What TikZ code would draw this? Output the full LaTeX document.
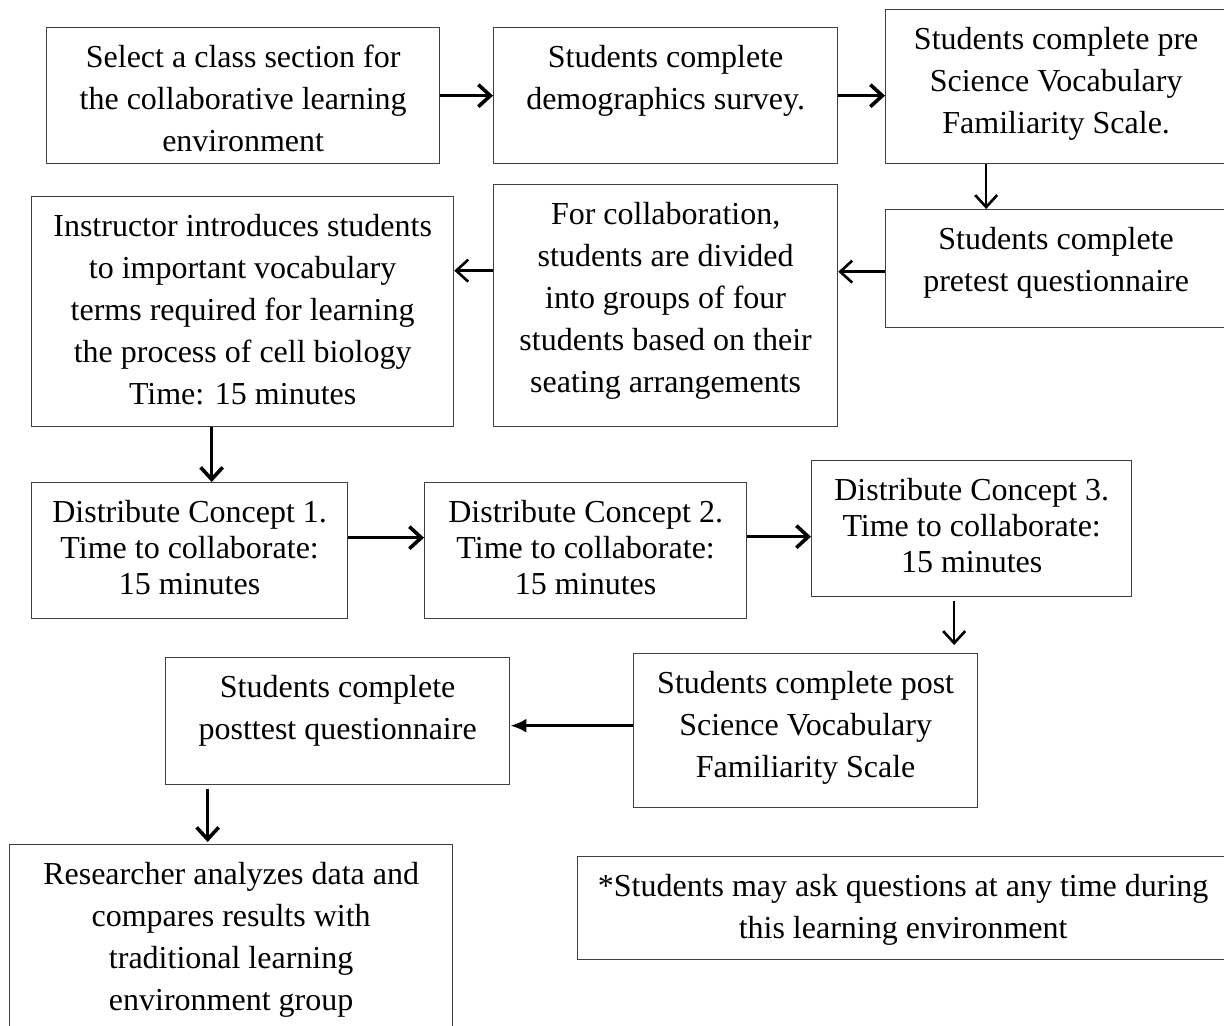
\documentclass[tikz,border=0pt]{standalone}
\usepackage{fontspec}
\setmainfont{Liberation Serif}
\usetikzlibrary{arrows.meta}

\tikzset{
  stage/.style={draw=black!75, line width=0.65pt, inner sep=0pt, anchor=north west},
  flow/.style={-{Straight Barb[length=6pt,width=11pt]}, line width=1.8pt},
  thinflow/.style={-{Straight Barb[length=6pt,width=11pt]}, line width=1.3pt},
  solidflow/.style={-{Latex[length=8pt,width=7pt]}, line width=1.6pt}
}
\newcommand{\stagetext}[4][21pt]{%
  \begin{minipage}[t][#3][t]{#2}\centering
  \fontsize{16}{#1}\selectfont\rule{0pt}{20pt}#4%
  \end{minipage}}

\begin{document}
\begin{tikzpicture}[x=0.5pt,y=-0.5pt]

        \clip (0,0) rectangle (1224,1025);

        % first row
        \node[stage] (select) at (46,27) {\stagetext{196.5pt}{68pt}{Select a class section for\\the collaborative learning\\environment}};
        \node[stage] (demog) at (493,27) {\stagetext{172pt}{68pt}{Students complete\\demographics survey.}};
        \node[stage] (prescale) at (885,9) {\stagetext{170.5pt}{77pt}{Students complete pre\\Science Vocabulary\\Familiarity Scale.}};

        % second row
        \node[stage] (pretest) at (885,209) {\stagetext{170.5pt}{59pt}{Students complete\\pretest questionnaire}};
        \node[stage] (groups) at (493,184) {\stagetext{172pt}{121pt}{For collaboration,\\students are divided\\into groups of four\\students based on their\\seating arrangements}};
        \node[stage] (vocab) at (31,196) {\stagetext{211pt}{115pt}{Instructor introduces students\\to important vocabulary\\terms required for learning\\the process of cell biology\\Time: 15 minutes}};

        % concepts
        \node[stage] (conceptA) at (31,482) {\stagetext[18pt]{158pt}{68pt}{Distribute Concept 1.\\Time to collaborate:\\15 minutes}};
        \node[stage] (conceptB) at (424,482) {\stagetext[18pt]{161pt}{68pt}{Distribute Concept 2.\\Time to collaborate:\\15 minutes}};
        \node[stage] (conceptC) at (811,460) {\stagetext[18pt]{160pt}{68pt}{Distribute Concept 3.\\Time to collaborate:\\15 minutes}};

        % post
        \node[stage] (postscale) at (633,653) {\stagetext{172pt}{77pt}{Students complete post\\Science Vocabulary\\Familiarity Scale}};
        \node[stage] (posttest) at (165,657) {\stagetext{172pt}{63.5pt}{Students complete\\posttest questionnaire}};
        \node[stage] (analyse) at (9,844) {\stagetext{221.5pt}{95.5pt}{Researcher analyzes data and\\compares results with\\traditional learning\\environment group}};
        \node[stage] (note) at (577,856) {\stagetext{325.5pt}{51.5pt}{*Students may ask questions at any time during\\this learning environment}};

        \draw[flow] (select.east) -- (demog.west);
        \draw[flow] (demog.east) -- (demog.east -| prescale.west);
        \draw[thinflow] ([xshift=-35pt]prescale.south) -- ([xshift=-35pt]pretest.north);
        \draw[thinflow] ([yshift=-1.5pt]pretest.west) -- ([yshift=-1.5pt]pretest.west -| groups.east);
        \draw[thinflow] ([yshift=-1pt]pretest.west -| groups.west) -- ([yshift=-1pt]pretest.west -| vocab.east);
        \draw[flow] ([xshift=-15.5pt]vocab.south) -- ([xshift=-15.5pt]vocab.south |- conceptA.north);
        \draw[flow] ([yshift=6.5pt]conceptA.east) -- ([yshift=6.5pt]conceptB.west);
        \draw[flow] ([yshift=7pt]conceptB.east) -- ([yshift=7pt]conceptB.east -| conceptC.west);
        \draw[thinflow, shorten <=2pt, shorten >=4pt] ([xshift=-8.75pt]conceptC.south) -- ([xshift=-8.75pt]conceptC.south |- postscale.north);
        \draw[solidflow] ([yshift=2.5pt]postscale.west) -- ([yshift=2.5pt]postscale.west -| posttest.east);
        \draw[flow, shorten <=2pt, shorten >=1pt] ([xshift=-65pt]posttest.south) -- ([xshift=-65pt]posttest.south |- analyse.north);

    \end{tikzpicture}
\end{document}
